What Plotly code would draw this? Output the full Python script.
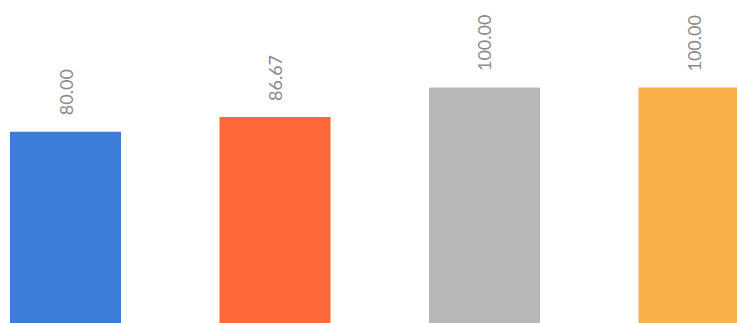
import plotly.graph_objects as go

categories = ["A", "B", "C", "D"]
values = [80.00, 86.67, 100.00, 100.00]
labels = ["80.00", "86.67", "100.00", "100.00"]
colors = ["#3b7dd8", "#fc6838", "#b8b9b6", "#f9b04a"]

BASE = -20  # bars continue below the visible area (cropped chart)

fig = go.Figure()
fig.add_trace(go.Bar(
    x=categories,
    y=[v - BASE for v in values],
    base=BASE,
    marker=dict(color=colors, line=dict(width=0)),
    width=0.53,
    hoverinfo="skip",
))

for c, v, t in zip(categories, values, labels):
    fig.add_annotation(
        x=c, y=v, text=t, textangle=-90, showarrow=False,
        xanchor="center", yanchor="bottom", yshift=14,
        font=dict(family="Lato", size=18, color="#8a8a8a"),
    )

fig.update_layout(
    width=737, height=323,
    margin=dict(l=0, r=0, t=0, b=0),
    paper_bgcolor="white", plot_bgcolor="white",
    showlegend=False,
    xaxis=dict(range=[-0.3126, 3.205], visible=False, showgrid=False, zeroline=False),
    yaxis=dict(range=[-6.6, 139.6], visible=False, showgrid=False, zeroline=False),
)

fig.write_html(
    "out.html",
    config={"displayModeBar": False},
    post_script="document.body.style.margin='0';document.body.style.overflow='hidden';",
)
